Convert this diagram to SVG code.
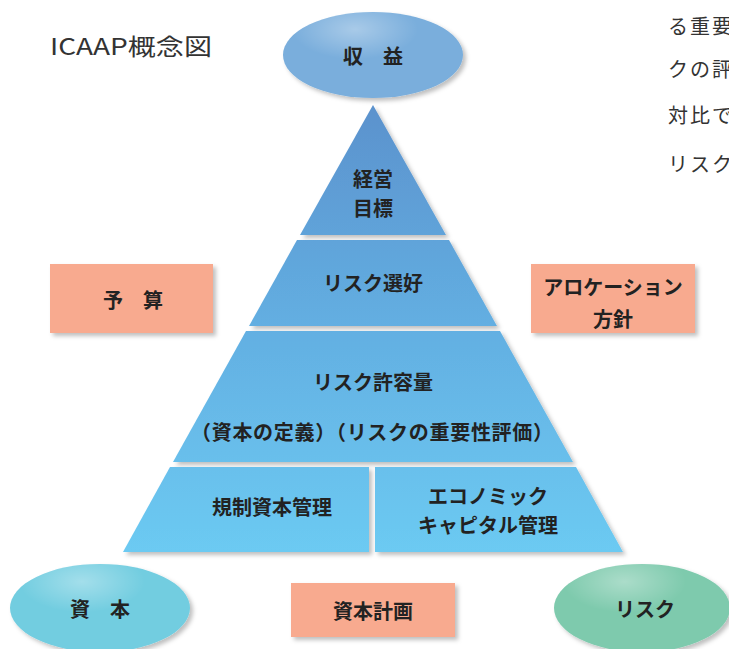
<svg xmlns="http://www.w3.org/2000/svg" width="729" height="649" viewBox="0 0 729 649">
<defs>
<linearGradient id="pyr" gradientUnits="userSpaceOnUse" x1="0" y1="105" x2="0" y2="552">
<stop offset="0" stop-color="#5b92cd"/>
<stop offset="0.5" stop-color="#63afe2"/>
<stop offset="1" stop-color="#6ccaf2"/>
</linearGradient>
<radialGradient id="hl" cx="0.4" cy="0.2" r="0.35">
<stop offset="0" stop-color="#ffffff" stop-opacity="0.35"/>
<stop offset="1" stop-color="#ffffff" stop-opacity="0"/>
</radialGradient>
<filter id="sh" x="-10%" y="-10%" width="130%" height="130%">
<feDropShadow dx="3" dy="3" stdDeviation="2" flood-color="#000" flood-opacity="0.25"/>
</filter>
<style>
.t{font-family:"Noto Sans CJK JP","Noto Sans",sans-serif;font-weight:bold;font-size:20px;fill:#222;text-anchor:middle;dominant-baseline:central}
.r{font-family:"Noto Sans CJK JP","Noto Sans",sans-serif;font-size:20px;fill:#333;dominant-baseline:central;letter-spacing:2px}
.band{fill:url(#pyr);filter:url(#sh)}
.box{fill:#f8aa8f;filter:url(#sh)}
</style>
</defs>
<rect width="729" height="649" fill="#fff"/>
<text class="r" x="50" y="45" style="font-size:23px;letter-spacing:0" textLength="162" lengthAdjust="spacingAndGlyphs">ICAAP概念図</text>
<g id="sidetext">
<text class="r" x="668" y="25">る重要</text>
<text class="r" x="668" y="68">クの評</text>
<text class="r" x="668" y="114">対比で</text>
<text class="r" x="668" y="163">リスク</text>
</g>
<g id="connectors"></g>
<g id="income">
<ellipse cx="373" cy="55" rx="90" ry="43" fill="#7aaedc" filter="url(#sh)"/>
<ellipse cx="373" cy="55" rx="90" ry="43" fill="url(#hl)"/>
<text class="t" x="373" y="55">収　益</text>
</g>
<g id="goal">
<polygon class="band" points="373,105 446,235 300,235"/>
<text class="t" x="373" y="178">経営</text>
<text class="t" x="373" y="207">目標</text>
</g>
<g id="appetite">
<polygon class="band" points="297,240 449,240 497,326 249,326"/>
<text class="t" x="373" y="282">リスク選好</text>
</g>
<g id="tolerance">
<polygon class="band" points="246,331 500,331 573,462 173,462"/>
<text class="t" x="373" y="381">リスク許容量</text>
<text class="t" x="372" y="431" textLength="362">（資本の定義）（リスクの重要性評価）</text>
</g>
<g id="regcap">
<polygon class="band" points="170,467 369,467 369,552 123,552"/>
<text class="t" x="272" y="506">規制資本管理</text>
</g>
<g id="ecocap">
<polygon class="band" points="375,467 576,467 623,552 375,552"/>
<text class="t" x="488" y="495">エコノミック</text>
<text class="t" x="488" y="524">キャピタル管理</text>
</g>
<g id="budget">
<rect class="box" x="50" y="264" width="163" height="69"/>
<text class="t" x="133" y="299">予　算</text>
</g>
<g id="allocation">
<rect class="box" x="531" y="264" width="164" height="69"/>
<text class="t" x="613" y="286">アロケーション</text>
<text class="t" x="613" y="318">方針</text>
</g>
<g id="capplan">
<rect class="box" x="291" y="583" width="164" height="54"/>
<text class="t" x="373" y="610">資本計画</text>
</g>
<g id="capital">
<ellipse cx="100" cy="608" rx="90" ry="44" fill="#72cde0" filter="url(#sh)"/>
<ellipse cx="100" cy="608" rx="90" ry="44" fill="url(#hl)"/>
<text class="t" x="100" y="608">資　本</text>
</g>
<g id="risk">
<ellipse cx="642" cy="608" rx="88" ry="44" fill="#7ecaad" filter="url(#sh)"/>
<ellipse cx="642" cy="608" rx="88" ry="44" fill="url(#hl)"/>
<text class="t" x="645" y="608">リスク</text>
</g>
</svg>
